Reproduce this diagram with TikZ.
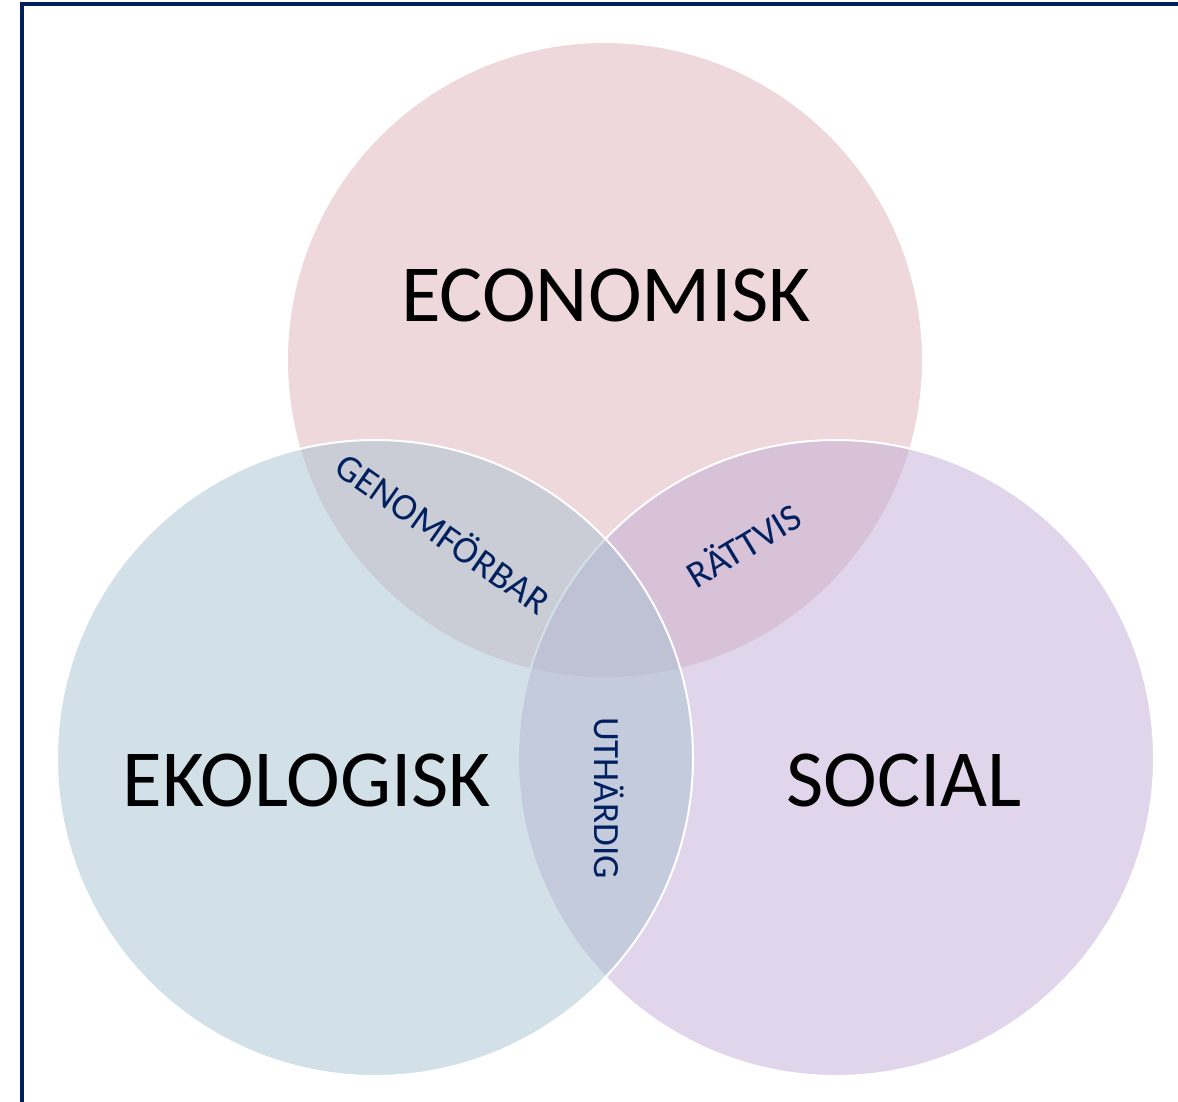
\documentclass[tikz,border=0pt]{standalone}
\usepackage{fontspec}
\setmainfont{Carlito}
\definecolor{navy}{HTML}{002060}
\definecolor{econcol}{RGB}{223,179,185}
\definecolor{ekolcol}{RGB}{167,195,209}
\definecolor{socialcol}{RGB}{195,173,215}
\begin{document}
\begin{tikzpicture}[x=1pt,y=-1pt,
  venn/.style={circle, inner sep=0pt, outer sep=0pt, minimum size=636pt, draw=white, line width=2pt, fill opacity=0.5},
  bigtext/.style={font=\fontsize{81}{81}\selectfont, text=black, inner sep=0pt},
  smalltext/.style={font=\fontsize{38}{38}\selectfont, text=navy, inner sep=0pt}]
\useasboundingbox (0,0) rectangle (1178,1102);
\clip (0,0) rectangle (1178,1102);
\fill[white] (0,0) rectangle (1178,1102);
\draw[navy, line width=4pt] (22,1120) -- (22,4) -- (1200,4);
\node[venn, fill=econcol] (econ) at (605,360) {};
\node[venn, fill=socialcol] (social) at (836,758) {};
\node[venn, fill=ekolcol] (ekol) at (375,758) {};
\node[bigtext] (econlabel) at (606,295) {ECONOMISK};
\node[bigtext] (ekollabel) at (307,780) {EKOLOGISK};
\node[bigtext] (sociallabel) at (904,780) {SOCIAL};
\node[smalltext, rotate=-35] (genom) at (444,532) {GENOMFÖRBAR};
\node[smalltext, rotate=31] (rattvis) at (743,544) {RÄTTVIS};
\node[smalltext, font=\fontsize{37}{37}\selectfont, rotate=-90] (uthardig) at (609,798) {UTHÄRDIG};
\end{tikzpicture}
\end{document}
